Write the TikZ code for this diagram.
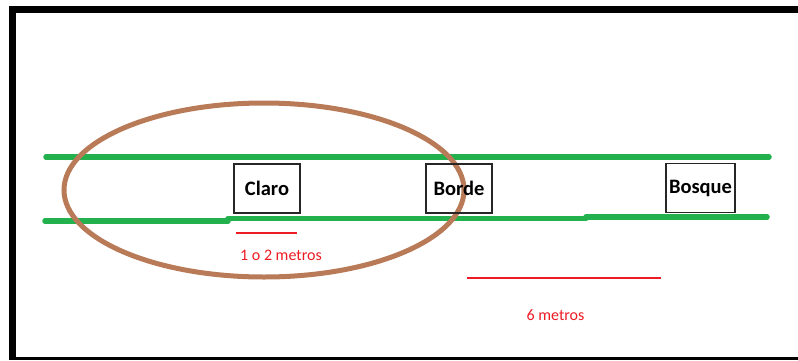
\documentclass[tikz,border=0pt]{standalone}
\usepackage{fontspec}
\setmainfont{Carlito}
\definecolor{pathgreen}{RGB}{34,177,76}
\definecolor{zonebrown}{RGB}{185,122,87}
\definecolor{measred}{RGB}{237,28,36}
\definecolor{frameblack}{RGB}{0,0,0}
\tikzset{
  edgeline/.style={pathgreen, line width=5.5pt, line cap=round},
  zonebox/.style={draw=black!85, line width=1.4pt, minimum width=66pt, minimum height=49pt, inner sep=0pt,
                  font=\fontsize{20.5}{22}\selectfont\bfseries},
  measline/.style={draw=measred, line width=2pt},
  measlabel/.style={text=measred, font=\fontsize{16}{18}\selectfont, inner sep=0pt}
}
\begin{document}
\begin{tikzpicture}[x=1pt, y=-1pt]
  \useasboundingbox (0,0) rectangle (798,360);
  \fill[white] (0,0) rectangle (798,360);
  % frame
  \fill[frameblack] (9,6) rectangle (798,13);
  \fill[frameblack] (9,6) rectangle (16,360);
  \fill[frameblack] (9,357) rectangle (798,360);
  % corridor edges
  \draw[edgeline] (46,157) -- (769,157);
  \draw[edgeline] (45,221) -- (228,221);
  \draw[edgeline] (228,218.5) -- (586,218.5);
  \draw[edgeline] (586,217) -- (767,217);
  % clearing zone
  \draw[zonebrown, line width=5pt] (264,190) ellipse [x radius=200, y radius=87];
  % zone labels
  \node[zonebox] (claro) at (267,188.5) {Claro};
  \node[zonebox] (borde) at (459,188.5) {Borde};
  \node[zonebox, minimum width=69pt] (bosque) at (700.5,188) {Bosque};
  % distances
  \coordinate (m1a) at (236,233);
  \coordinate (m1b) at (297,233);
  \draw[measline] (m1a) -- (m1b);
  \node[measlabel] (m1) at (281,255) {1 o 2 metros};
  \coordinate (m2a) at (467,278);
  \coordinate (m2b) at (661,278);
  \draw[measline] (m2a) -- (m2b);
  \node[measlabel] (m2) at (555.5,315.5) {6 metros};
\end{tikzpicture}
\end{document}
